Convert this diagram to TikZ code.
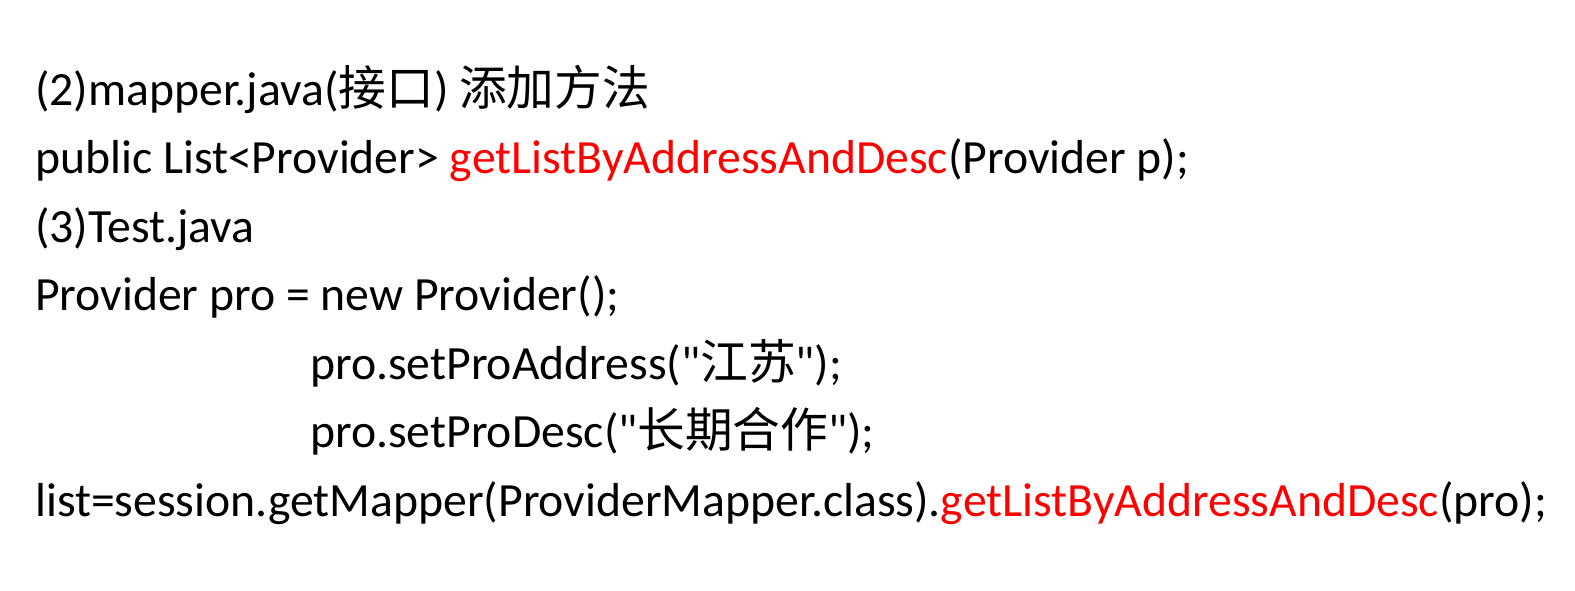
\documentclass[tikz,border=0pt]{standalone}
\usepackage{fontspec}
\setmainfont{Carlito}[Ligatures=TeXOff]
\newfontfamily\cjk{Noto Sans CJK SC}
\usepackage{xcolor}
\definecolor{keyred}{RGB}{255,0,0}

\begin{document}
\begin{tikzpicture}[x=1pt,y=1pt,
  codeline/.style={anchor=base west,inner sep=0pt,font=\fontsize{47.7}{57}\selectfont}]
\useasboundingbox (0,0) rectangle (1575,-590);
\node[codeline] (step2) at (35,-105) {(2)mapper.java({\cjk 接口}) {\cjk 添加方法}};
\node[codeline] (sig) at (35,-173) {public List<Provider> \textcolor{keyred}{getListByAddressAndDesc}(Provider p);};
\node[codeline] (step3) at (35,-242) {(3)Test.java};
\node[codeline] (newpro) at (35,-310) {Provider pro = new Provider();};
\node[codeline] (setaddr) at (310,-379) {pro.setProAddress("{\cjk 江苏}");};
\node[codeline] (setdesc) at (310,-447) {pro.setProDesc("{\cjk 长期合作}");};
\node[codeline] (call) at (35,-516) {list=session.getMapper(ProviderMapper.class).\textcolor{keyred}{getListByAddressAndDesc}(pro);};
\end{tikzpicture}
\end{document}
